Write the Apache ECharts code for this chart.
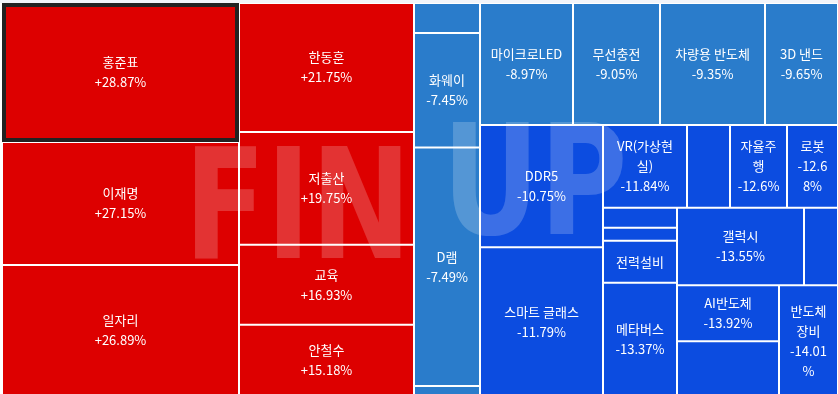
<!DOCTYPE html>
<html>
<head>
<meta charset="utf-8">
<script src="https://cdn.jsdelivr.net/npm/echarts@6/dist/echarts.min.js"></script>
<style>
html,body{margin:0;padding:0;background:#fff;}
#c{width:838px;height:394px;}
</style>
</head>
<body>
<div id="c"></div>
<script>
// Data in the original (data-driven) order
const names = ['홍준표','이재명','일자리','한동훈','저출산','교육','안철수','',
  '화웨이','D램','','마이크로LED','무선충전','차량용 반도체','3D 낸드','DDR5',
  '스마트 글래스','VR(가상현실)','','자율주행','로봇','','','전력설비','메타버스',
  '갤럭시','','AI반도체','','반도체장비'];
const changes = [28.87,27.15,26.89,21.75,19.75,16.93,15.18,-7.2,
  -7.45,-7.49,-8.6,-8.97,-9.05,-9.35,-9.65,-10.75,
  -11.79,-11.84,-12.2,-12.6,-12.68,-12.9,-13.0,-13.2,-13.37,
  -13.55,-13.7,-13.92,-13.95,-14.01];
const sizes = [32943,29151,31047,22575,19722,14000,12478,1980,
  7550,15748,660,11346,10614,12810,8906,15031,
  18302,6947,3556,4714,4218,1480,962,3108,8384,
  9855,2638,5712,5579,6531];
const highlighted = '홍준표';
const watermark = ['FIN', 'UP'];

function colorOf(c){
  if (c > 0) return '#dd0000';
  if (c > -10) return '#2a7ccb';
  return '#0c4ce0';
}
function fmt(c){ return (c > 0 ? '+' : '') + c + '%'; }

const data = names.map((n, i) => {
  const item = {
    name: n,
    value: sizes[i],
    change: changes[i],
    itemStyle: { color: colorOf(changes[i]) }
  };
  if (!n) item.label = { show: false };
  if (n === '로봇') item.label = { padding: [5, 8] };
  if (n === highlighted) {
    item.itemStyle.borderColor = '#222';
    item.itemStyle.borderWidth = 4;
  }
  return item;
});

const wmStyle = {
  fill: 'rgba(255,255,255,0.2)',
  font: 'bold 154px "DejaVu Sans"',
  verticalAlign: 'middle',
  align: 'left'
};
const chart = echarts.init(document.getElementById('c'));
chart.setOption({
  animation: false,
  backgroundColor: '#fff',
  graphic: [
    { type: 'rect', left: 0, top: 0, shape: { width: 838, height: 3 }, style: { fill: '#f2f4f9' }, z: 100 },
    { type: 'text', x: 184, y: 218, scaleX: 0.78, z: 100, silent: true,
      style: Object.assign({ text: watermark[0] }, wmStyle) },
    { type: 'text', x: 442, y: 194, scaleX: 0.78, z: 100, silent: true,
      style: Object.assign({ text: watermark[1] }, wmStyle) }
  ],
  series: [{
    type: 'treemap',
    left: 2, top: 3, right: 0, bottom: -2,
    sort: false,
    roam: false,
    nodeClick: false,
    breadcrumb: { show: false },
    emphasis: { disabled: true },
    label: {
      show: true,
      position: 'inside',
      color: '#fff',
      fontFamily: '"Noto Sans CJK KR", "Noto Sans", sans-serif',
      fontSize: 13,
      lineHeight: 20,
      overflow: 'breakAll',
      formatter: p => p.name + '\n' + fmt(p.data.change)
    },
    levels: [
      { itemStyle: { borderWidth: 0, gapWidth: 0 } },
      { itemStyle: { borderWidth: 1, borderColor: '#fff', gapWidth: 0 } }
    ],
    data: data
  }]
});
</script>
</body>
</html>
